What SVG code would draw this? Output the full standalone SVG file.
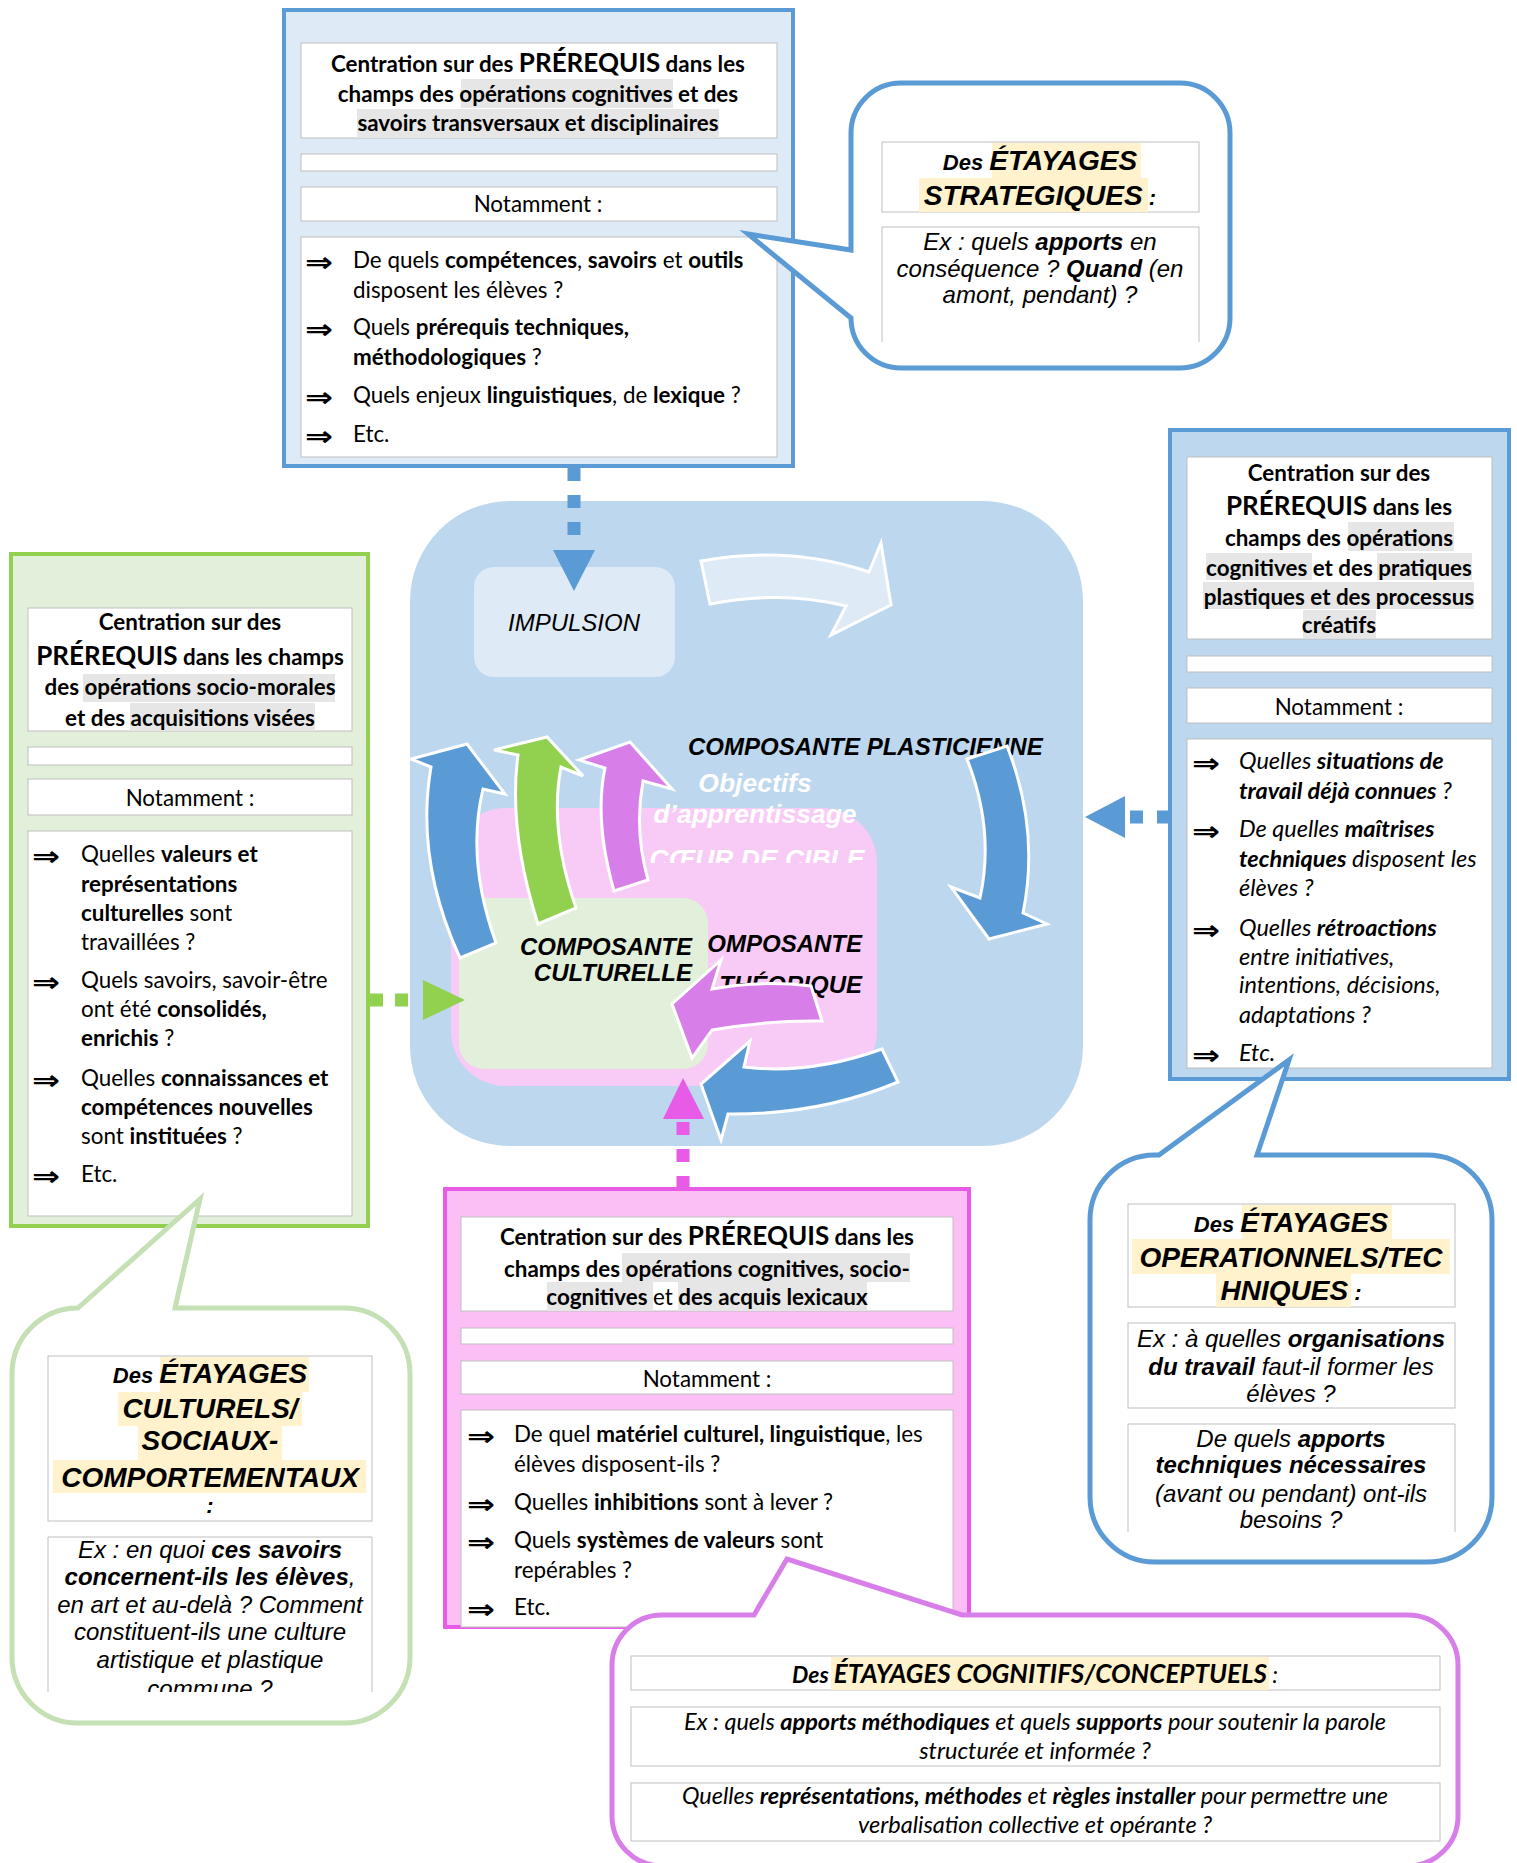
<svg xmlns="http://www.w3.org/2000/svg" width="1517" height="1863" viewBox="0 0 1517 1863">
<defs>
<style>
.c{font-family:Lato,"Open Sans",sans-serif;font-size:22.4px;fill:#000}
.cb{font-family:Lato,"Open Sans",sans-serif;font-size:22.4px;font-weight:bold;fill:#000}
.c.ci{font-style:italic;font-size:23.5px}
.b{font-weight:bold}
.big{font-size:26px}
.m{text-anchor:middle}
.a{font-family:"Liberation Sans",Arial,sans-serif;font-style:italic;font-size:24px;fill:#000}
.at{font-family:"Liberation Sans",Arial,sans-serif;font-style:italic;font-weight:bold;font-size:28px;fill:#000}
.ad{font-size:22px}
.cen{font-family:"Liberation Sans",Arial,sans-serif;font-style:italic;font-weight:bold;font-size:24px}
.cw{font-size:26.5px;fill:#fff}
.arr{font-family:"DejaVu Sans",sans-serif;font-size:28px;font-weight:bold;fill:#000}
.wb{fill:#fff;stroke:#bfbfbf;stroke-width:1}
.hl{fill:#e6e6e6}
.hy{fill:#fff2cc}
.ol{fill:none;stroke:#bfbfbf;stroke-width:1}
.arw{stroke:#fff;stroke-width:3;stroke-linejoin:miter}
</style>
<clipPath id="cg"><rect x="40" y="1530" width="340" height="162"/></clipPath>
<clipPath id="cc"><rect x="600" y="700" width="300" height="163"/></clipPath>
</defs>
<rect width="1517" height="1863" fill="#fff"/>

<g id="center">
<rect x="410" y="501" width="673" height="645" rx="100" fill="#bdd7ee"/>
<g id="impulsion">
<rect x="474" y="567" width="201" height="110" rx="20" fill="#deebf7"/>
<text class="a" x="574" y="631" text-anchor="middle">IMPULSION</text>
</g>
<path class="arw" fill="#deebf7" d="M701,561 Q790,545 869,572 L881,543 L891,605 L831,635 L846,606 Q780,590 710,604 Z"/>
<g id="coeur">
<rect x="451" y="808" width="426" height="278" rx="55" fill="#f8cbf6"/>
<text class="cen cw" x="755" y="792" text-anchor="middle">Objectifs</text>
<text class="cen cw" x="755" y="823" text-anchor="middle">d’apprentissage</text>
<text class="cen cw" x="757" y="868" text-anchor="middle" clip-path="url(#cc)">CŒUR DE CIBLE</text>
<text class="cen" x="862" y="952" text-anchor="end">COMPOSANTE</text>
<text class="cen" x="862" y="993" text-anchor="end">THÉORIQUE</text>
</g>
<g id="culturelle">
<rect x="459" y="898" width="249" height="171" rx="25" fill="#e2efda"/>
<text class="cen" x="692" y="955" text-anchor="end">COMPOSANTE</text>
<text class="cen" x="692" y="981" text-anchor="end">CULTURELLE</text>
</g>
<text class="cen" x="688" y="755">COMPOSANTE PLASTICIENNE</text>
<path class="arw" fill="#5b9bd5" d="M1007,746 Q1040,830 1023,913 L1047,924 L989,939 L951,887 L980,898 Q995,830 967,759 Z"/>
<path class="arw" fill="#5b9bd5" d="M882,1049 Q810,1075 744,1067 L750,1041 L701,1084 L721,1140 L728,1114 Q820,1115 898,1082 Z"/>
<path class="arw" fill="#d87ee9" d="M811,986 Q760,980 712,989 L721,960 L672,1004 L692,1058 L712,1030 Q770,1020 822,1021 Z"/>
<path class="arw" fill="#5b9bd5" d="M460,958 Q415,860 431,767 L411,759 L467,744 L505,794 L483,789 Q466,860 496,943 Z"/>
<path class="arw" fill="#92d050" d="M538,924 Q508,830 518,755 L494,750 L547,737 L583,776 L561,767 Q549,830 576,908 Z"/>
<path class="arw" fill="#d87ee9" d="M614,891 Q594,820 605,768 L579,760 L630,742 L672,789 L643,781 Q634,830 648,880 Z"/>
</g>

<g id="top-box">
<rect x="284" y="10" width="509" height="456" fill="#deebf7" stroke="#5b9bd5" stroke-width="4"/>
<rect class="wb" x="301" y="43" width="476" height="95"/>
<rect class="hl" x="461" y="79" width="212" height="29"/>
<rect class="hl" x="357" y="109" width="362" height="29"/>
<text class="cb m" x="538" y="72">Centration sur des <tspan class="big">PRÉREQUIS</tspan> dans les</text>
<text class="cb m" x="538" y="102">champs des opérations cognitives et des</text>
<text class="cb m" x="538" y="131">savoirs transversaux et disciplinaires</text>
<rect class="wb" x="301" y="154" width="476" height="17"/>
<rect class="wb" x="301" y="187" width="476" height="34"/>
<text class="c m" x="538" y="212">Notamment :</text>
<rect class="wb" x="301" y="237" width="476" height="220"/>
<text class="arr" x="305" y="272" textLength="28" lengthAdjust="spacingAndGlyphs">⇒</text>
<text class="arr" x="305" y="339" textLength="28" lengthAdjust="spacingAndGlyphs">⇒</text>
<text class="arr" x="305" y="407" textLength="28" lengthAdjust="spacingAndGlyphs">⇒</text>
<text class="arr" x="305" y="446" textLength="28" lengthAdjust="spacingAndGlyphs">⇒</text>
<text class="c" x="353" y="268">De quels <tspan class="b">compétences</tspan>, <tspan class="b">savoirs</tspan> et <tspan class="b">outils</tspan></text>
<text class="c" x="353" y="298">disposent les élèves ?</text>
<text class="c" x="353" y="335">Quels <tspan class="b">prérequis techniques,</tspan></text>
<text class="c" x="353" y="365"><tspan class="b">méthodologiques</tspan> ?</text>
<text class="c" x="353" y="403">Quels enjeux <tspan class="b">linguistiques</tspan>, de <tspan class="b">lexique</tspan> ?</text>
<text class="c" x="353" y="442">Etc.</text>
</g>

<g id="right-box">
<rect x="1170" y="430" width="339" height="649" fill="#bdd7ee" stroke="#5b9bd5" stroke-width="4"/>
<rect class="wb" x="1187" y="457" width="305" height="182"/>
<rect class="hl" x="1348" y="522" width="106" height="29" fill="#d9d9d9"/>
<rect class="hl" x="1206" y="553" width="106" height="27" fill="#d9d9d9"/>
<rect class="hl" x="1377" y="553" width="95" height="27"/>
<rect class="hl" x="1203" y="582" width="271" height="27"/>
<rect class="hl" x="1303" y="610" width="73" height="28"/>
<text class="cb m" x="1339" y="481">Centration sur des</text>
<text class="cb m" x="1339" y="515"><tspan class="big">PRÉREQUIS</tspan> dans les</text>
<text class="cb m" x="1339" y="546">champs des opérations</text>
<text class="cb m" x="1339" y="576">cognitives et des pratiques</text>
<text class="cb m" x="1339" y="605">plastiques et des processus</text>
<text class="cb m" x="1339" y="633">créatifs</text>
<rect class="wb" x="1187" y="656" width="305" height="16"/>
<rect class="wb" x="1187" y="688" width="305" height="35"/>
<text class="c m" x="1339" y="715">Notamment :</text>
<rect class="wb" x="1187" y="739" width="305" height="329"/>
<text class="arr" x="1192" y="773" textLength="28" lengthAdjust="spacingAndGlyphs">⇒</text>
<text class="arr" x="1192" y="841" textLength="28" lengthAdjust="spacingAndGlyphs">⇒</text>
<text class="arr" x="1192" y="940" textLength="28" lengthAdjust="spacingAndGlyphs">⇒</text>
<text class="arr" x="1192" y="1065" textLength="28" lengthAdjust="spacingAndGlyphs">⇒</text>
<text class="c ci" x="1239" y="769">Quelles <tspan class="b">situations de</tspan></text>
<text class="c ci" x="1239" y="799"><tspan class="b">travail déjà connues</tspan> ?</text>
<text class="c ci" x="1239" y="837">De quelles <tspan class="b">maîtrises</tspan></text>
<text class="c ci" x="1239" y="867"><tspan class="b">techniques</tspan> disposent les</text>
<text class="c ci" x="1239" y="896">élèves ?</text>
<text class="c ci" x="1239" y="936">Quelles <tspan class="b">rétroactions</tspan></text>
<text class="c ci" x="1239" y="965">entre initiatives,</text>
<text class="c ci" x="1239" y="993">intentions, décisions,</text>
<text class="c ci" x="1239" y="1023">adaptations ?</text>
<text class="c ci" x="1239" y="1061">Etc.</text>
</g>

<g id="left-box">
<rect x="11" y="554" width="357" height="672" fill="#e2efda" stroke="#92d050" stroke-width="4"/>
<rect class="wb" x="28" y="608" width="324" height="123"/>
<rect class="hl" x="83" y="674" width="252" height="28" fill="#eeeeee"/>
<rect class="hl" x="130" y="703" width="185" height="28" fill="#eeeeee"/>
<text class="cb m" x="190" y="630">Centration sur des</text>
<text class="cb m" x="190" y="665"><tspan class="big">PRÉREQUIS</tspan> dans les champs</text>
<text class="cb m" x="190" y="695">des opérations socio-morales</text>
<text class="cb m" x="190" y="726">et des acquisitions visées</text>
<rect class="wb" x="28" y="747" width="324" height="18"/>
<rect class="wb" x="28" y="779" width="324" height="36"/>
<text class="c m" x="190" y="806">Notamment :</text>
<rect class="wb" x="28" y="831" width="324" height="385"/>
<text class="arr" x="32" y="866" textLength="28" lengthAdjust="spacingAndGlyphs">⇒</text>
<text class="arr" x="32" y="992" textLength="28" lengthAdjust="spacingAndGlyphs">⇒</text>
<text class="arr" x="32" y="1090" textLength="28" lengthAdjust="spacingAndGlyphs">⇒</text>
<text class="arr" x="32" y="1186" textLength="28" lengthAdjust="spacingAndGlyphs">⇒</text>
<text class="c" x="81" y="862">Quelles <tspan class="b">valeurs et</tspan></text>
<text class="c" x="81" y="892"><tspan class="b">représentations</tspan></text>
<text class="c" x="81" y="921"><tspan class="b">culturelles</tspan> sont</text>
<text class="c" x="81" y="950">travaillées ?</text>
<text class="c" x="81" y="988">Quels savoirs, savoir-être</text>
<text class="c" x="81" y="1017">ont été <tspan class="b">consolidés,</tspan></text>
<text class="c" x="81" y="1046"><tspan class="b">enrichis</tspan> ?</text>
<text class="c" x="81" y="1086">Quelles <tspan class="b">connaissances et</tspan></text>
<text class="c" x="81" y="1115"><tspan class="b">compétences nouvelles</tspan></text>
<text class="c" x="81" y="1144">sont <tspan class="b">instituées</tspan> ?</text>
<text class="c" x="81" y="1182">Etc.</text>
</g>

<g id="bottom-box">
<rect x="445" y="1189" width="524" height="438" fill="#fbbff6" stroke="#e75be7" stroke-width="4"/>
<rect class="wb" x="461" y="1217" width="492" height="94"/>
<rect class="hl" x="622" y="1253" width="288" height="29"/>
<rect class="hl" x="547" y="1282" width="106" height="29"/>
<rect class="hl" x="678" y="1282" width="189" height="29"/>
<text class="cb m" x="707" y="1245">Centration sur des <tspan class="big">PRÉREQUIS</tspan> dans les</text>
<text class="cb m" x="707" y="1277">champs des opérations cognitives, socio-</text>
<text class="cb m" x="707" y="1305">cognitives <tspan style="font-weight:normal">et</tspan> des acquis lexicaux</text>
<rect class="wb" x="461" y="1328" width="492" height="16"/>
<rect class="wb" x="461" y="1361" width="492" height="33"/>
<text class="c m" x="707" y="1387">Notamment :</text>
<rect class="wb" x="461" y="1410" width="492" height="217"/>
<text class="arr" x="467" y="1446" textLength="28" lengthAdjust="spacingAndGlyphs">⇒</text>
<text class="arr" x="467" y="1514" textLength="28" lengthAdjust="spacingAndGlyphs">⇒</text>
<text class="arr" x="467" y="1552" textLength="28" lengthAdjust="spacingAndGlyphs">⇒</text>
<text class="arr" x="467" y="1619" textLength="28" lengthAdjust="spacingAndGlyphs">⇒</text>
<text class="c" x="514" y="1442">De quel <tspan class="b">matériel culturel, linguistique</tspan>, les</text>
<text class="c" x="514" y="1472">élèves disposent-ils ?</text>
<text class="c" x="514" y="1510">Quelles <tspan class="b">inhibitions</tspan> sont à lever ?</text>
<text class="c" x="514" y="1548">Quels <tspan class="b">systèmes de valeurs</tspan> sont</text>
<text class="c" x="514" y="1578">repérables ?</text>
<text class="c" x="514" y="1615">Etc.</text>
</g>

<g id="connectors">
<line x1="574" y1="468" x2="574" y2="548" stroke="#5b9bd5" stroke-width="13" stroke-dasharray="13 14"/>
<polygon points="553,550 595,550 574,591" fill="#5b9bd5"/>
<line x1="370" y1="1000" x2="420" y2="1000" stroke="#92d050" stroke-width="13" stroke-dasharray="13 12"/>
<polygon points="423,980 423,1020 465,1000" fill="#92d050"/>
<line x1="1170" y1="817" x2="1127" y2="817" stroke="#5b9bd5" stroke-width="13" stroke-dasharray="13 14"/>
<polygon points="1125,796 1125,838 1085,817" fill="#5b9bd5"/>
<line x1="683" y1="1189" x2="683" y2="1120" stroke="#e75be7" stroke-width="13" stroke-dasharray="13 14"/>
<polygon points="663,1119 704,1119 683,1078" fill="#e75be7"/>
</g>

<g id="bubble-strategiques">
<path d="M901,83 H1180 A50,50 0 0 1 1230,133 V318 A50,50 0 0 1 1180,368 H901 A50,50 0 0 1 851,318 L748,234 L851,250 V133 A50,50 0 0 1 901,83 Z" fill="#fff" stroke="#5b9bd5" stroke-width="5"/>
<rect class="wb" x="882" y="142" width="317" height="70"/>
<rect class="hy" x="992" y="143" width="149" height="35"/>
<rect class="hy" x="919" y="178" width="229" height="34"/>
<text class="at m" x="1040" y="170"><tspan class="ad">Des </tspan>ÉTAYAGES</text>
<text class="at m" x="1040" y="205">STRATEGIQUES<tspan class="ad"> :</tspan></text>
<path class="ol" d="M882,342 V227 H1199 V342"/>
<text class="a m" x="1040" y="250">Ex : quels <tspan style="font-weight:bold">apports</tspan> en</text>
<text class="a m" x="1040" y="277">conséquence ? <tspan style="font-weight:bold">Quand</tspan> (en</text>
<text class="a m" x="1040" y="303">amont, pendant) ?</text>
</g>

<g id="bubble-operationnels">
<path d="M1155,1155 H1159 L1289,1060 L1257,1155 H1427 A65,65 0 0 1 1492,1220 V1497 A65,65 0 0 1 1427,1562 H1155 A65,65 0 0 1 1090,1497 V1220 A65,65 0 0 1 1155,1155 Z" fill="#fff" stroke="#5b9bd5" stroke-width="5"/>
<rect class="wb" x="1128" y="1204" width="327" height="103"/>
<rect class="hy" x="1242" y="1205" width="150" height="34"/>
<rect class="hy" x="1132" y="1239" width="318" height="35"/>
<rect class="hy" x="1216" y="1274" width="135" height="33"/>
<text class="at m" x="1291" y="1232"><tspan class="ad">Des </tspan>ÉTAYAGES</text>
<text class="at m" x="1291" y="1267">OPERATIONNELS/TEC</text>
<text class="at m" x="1291" y="1300">HNIQUES<tspan class="ad"> :</tspan></text>
<rect class="wb" x="1128" y="1323" width="327" height="85"/>
<text class="a m" x="1291" y="1347">Ex : à quelles <tspan style="font-weight:bold">organisations</tspan></text>
<text class="a m" x="1291" y="1375"><tspan style="font-weight:bold">du travail</tspan> faut-il former les</text>
<text class="a m" x="1291" y="1402">élèves ?</text>
<path class="ol" d="M1128,1532 V1424 H1455 V1532"/>
<text class="a m" x="1291" y="1447">De quels <tspan style="font-weight:bold">apports</tspan></text>
<text class="a m" x="1291" y="1473" style="font-weight:bold">techniques nécessaires</text>
<text class="a m" x="1291" y="1502">(avant ou pendant) ont-ils</text>
<text class="a m" x="1291" y="1528">besoins ?</text>
</g>

<g id="bubble-culturels">
<path d="M78,1308 L200,1199 L175,1308 H344 A66,66 0 0 1 410,1374 V1657 A66,66 0 0 1 344,1723 H78 A66,66 0 0 1 12,1657 V1374 A66,66 0 0 1 78,1308 Z" fill="#fff" stroke="#c5e0b4" stroke-width="5"/>
<rect class="wb" x="48" y="1356" width="324" height="165"/>
<rect class="hy" x="160" y="1357" width="149" height="35"/>
<rect class="hy" x="118" y="1392" width="184" height="34"/>
<rect class="hy" x="138" y="1426" width="144" height="34"/>
<rect class="hy" x="53" y="1460" width="313" height="33"/>
<text class="at m" x="210" y="1383"><tspan class="ad">Des </tspan>ÉTAYAGES</text>
<text class="at m" x="210" y="1418">CULTURELS/</text>
<text class="at m" x="210" y="1450">SOCIAUX-</text>
<text class="at m" x="210" y="1487">COMPORTEMENTAUX</text>
<text class="at m ad" x="210" y="1513">:</text>
<path class="ol" d="M48,1692 V1537 H372 V1692"/>
<g clip-path="url(#cg)">
<text class="a m" x="210" y="1558">Ex : en quoi <tspan style="font-weight:bold">ces savoirs</tspan></text>
<text class="a m" x="210" y="1585"><tspan style="font-weight:bold">concernent-ils les élèves</tspan>,</text>
<text class="a m" x="210" y="1613">en art et au-delà ? Comment</text>
<text class="a m" x="210" y="1640">constituent-ils une culture</text>
<text class="a m" x="210" y="1668">artistique et plastique</text>
<text class="a m" x="210" y="1697">commune ?</text>
</g>
</g>

<g id="bubble-cognitifs">
<path d="M662,1615 H754 L787,1559 L962,1615 H1408 A50,50 0 0 1 1458,1665 V1816 A50,50 0 0 1 1408,1866 H662 A50,50 0 0 1 612,1816 V1665 A50,50 0 0 1 662,1615 Z" fill="#fff" stroke="#d87ee9" stroke-width="5"/>
<rect class="wb" x="631" y="1656" width="809" height="34"/>
<rect class="hy" x="831" y="1657" width="438" height="33"/>
<text class="cb m" x="1035" y="1683" style="font-style:italic;font-size:26px"><tspan style="font-size:23px">Des </tspan>ÉTAYAGES COGNITIFS/CONCEPTUELS<tspan style="font-size:23px;font-weight:normal"> :</tspan></text>
<rect class="wb" x="631" y="1707" width="809" height="59"/>
<text class="c ci m" x="1035" y="1730">Ex : quels <tspan class="b">apports méthodiques</tspan> et quels <tspan class="b">supports</tspan> pour soutenir la parole</text>
<text class="c ci m" x="1035" y="1759">structurée et informée ?</text>
<rect class="wb" x="631" y="1783" width="809" height="58"/>
<text class="c ci m" x="1035" y="1804">Quelles <tspan class="b">représentations, méthodes</tspan> et <tspan class="b">règles installer</tspan> pour permettre une</text>
<text class="c ci m" x="1035" y="1833">verbalisation collective et opérante ?</text>
</g>
</svg>
